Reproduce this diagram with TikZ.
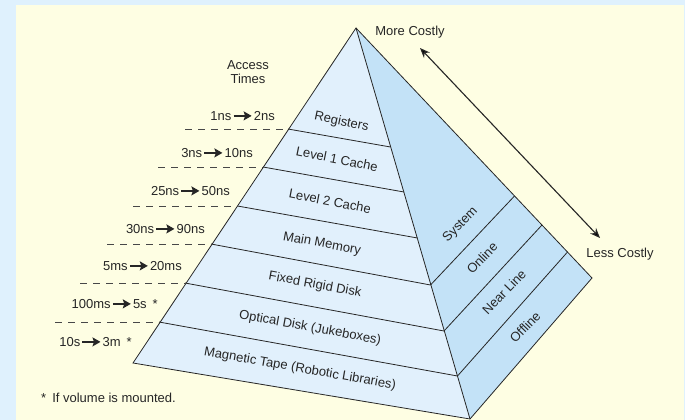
\documentclass[tikz,border=0pt]{standalone}
\usepackage{fontspec}
\setmainfont{Liberation Sans}
\usetikzlibrary{arrows.meta}
\definecolor{outerbg}{HTML}{DFF1FD}
\definecolor{cream}{HTML}{FEFEE3}
\definecolor{frontc}{HTML}{E1F0FC}
\definecolor{sidec}{HTML}{C3E2F7}
\definecolor{ink}{HTML}{262626}
\newcommand\tarr{\hspace{1.5pt}\tikz[baseline=-4.6pt]\draw[ink,line width=1.4pt,-{Stealth[length=8pt,width=9pt,inset=1.5pt]}] (0pt,0pt) -- (18pt,0pt);\hspace{1.5pt}}
\begin{document}
\begin{tikzpicture}[x=1pt,y=-1pt,
  txt/.style={font=\fontsize{13}{15}\selectfont, text=ink, inner sep=0pt},
  lvl/.style={txt},
  side/.style={txt, rotate=46},
  tlabel/.style={txt, anchor=east},
  edge/.style={draw=ink, line width=0.8pt},
  dashln/.style={draw=ink!85, line width=0.9pt, dash pattern=on 7pt off 6pt},
  costarrow/.style={draw=ink, line width=1.1pt, {Stealth[length=10pt,width=8pt]}-{Stealth[length=10pt,width=8pt]}}]
\useasboundingbox (0,0) rectangle (685,420);
\fill[outerbg] (0,0) rectangle (685,420);
\fill[cream] (16,5) rectangle (683.5,420);

% pyramid corner points
\coordinate (A) at (356,28);
\coordinate (L1) at (288,129);
\coordinate (L2) at (263,167);
\coordinate (L3) at (237.5,206);
\coordinate (L4) at (211,244);
\coordinate (L5) at (185,283);
\coordinate (L6) at (159,322);
\coordinate (L7) at (133,363);
\coordinate (I1) at (390.5,147);
\coordinate (I2) at (404,192);
\coordinate (I3) at (417.5,238);
\coordinate (I4) at (430.5,285);
\coordinate (I5) at (444,331);
\coordinate (I6) at (457.5,376);
\coordinate (I7) at (470,419);
\coordinate (O4) at (514.5,196);
\coordinate (O5) at (542,225);
\coordinate (O6) at (567.5,252);
\coordinate (O7) at (592,278);

% faces
\fill[frontc] (A) -- (L7) -- (I7) -- cycle;
\fill[sidec] (A) -- (I7) -- (O7) -- cycle;
\draw[edge] (A) -- (L7) -- (I7) -- (O7) -- cycle;
\draw[edge] (A) -- (I7);
\foreach \i in {1,...,6} {\draw[edge] (L\i) -- (I\i);}
\foreach \i in {4,5,6} {\draw[edge] (I\i) -- (O\i);}

% level labels
\node[lvl, rotate=-12] (reg) at (341.5,122) {Registers};
\node[lvl, rotate=-11.5] (l1) at (337,159) {Level 1 Cache};
\node[lvl, rotate=-11] (l2) at (330,201) {Level 2 Cache};
\node[lvl, rotate=-10.5] (mm) at (322,244) {Main Memory};
\node[lvl, rotate=-10.5] (frd) at (315,285) {Fixed Rigid Disk};
\node[lvl, rotate=-10.5] (od) at (310,328) {Optical Disk (Jukeboxes)};
\node[lvl, rotate=-10] (mt) at (300,369) {Magnetic Tape (Robotic Libraries)};

% side labels
\node[side] (sys) at (460.5,225) {System};
\node[side] (onl) at (482,258) {Online};
\node[side] (nl) at (504,292) {Near Line};
\node[side] (off) at (525,327) {Offline};

% access times
\node[txt, align=center] (acc) at (248,72.5) {Access\\[-1pt]Times};
\node[tlabel] (t1) at (275,116) {1ns\tarr 2ns};
\node[tlabel] (t2) at (253,153) {3ns\tarr 10ns};
\node[tlabel] (t3) at (230,191) {25ns\tarr 50ns};
\node[tlabel] (t4) at (205,229) {30ns\tarr 90ns};
\node[tlabel] (t5) at (182,266) {5ms\tarr 20ms};
\node[tlabel] (t6) at (158,304) {100ms\tarr 5s\hspace{6pt}*};
\node[tlabel] (t7) at (132,342) {10s\tarr 3m\hspace{6pt}*};

% dashed separators
\coordinate (D1) at (185,129);
\coordinate (D2) at (158,167);
\coordinate (D3) at (133,206);
\coordinate (D4) at (107,244);
\coordinate (D5) at (80,283);
\coordinate (D6) at (55,322);
\foreach \i in {1,...,6} {\draw[dashln] (D\i) -- (L\i);}

% footnote
\node[txt, anchor=west] (fn) at (41,398) {*\hspace{6pt}If volume is mounted.};

% cost arrow
\node[txt] (more) at (410,32) {More Costly};
\node[txt] (less) at (620,254) {Less Costly};
\coordinate (CA) at (420,48);
\coordinate (CB) at (600,238);
\draw[costarrow] (CA) -- (CB);
\end{tikzpicture}
\end{document}
